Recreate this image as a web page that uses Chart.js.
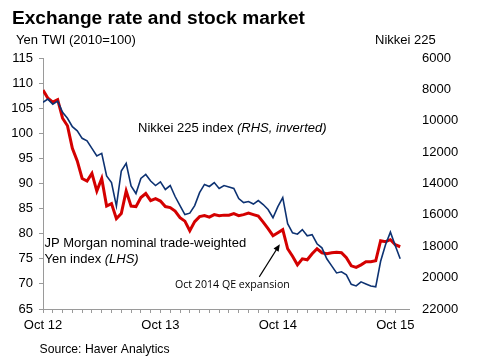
<!DOCTYPE html>
<html><head><meta charset="utf-8">
<script src="https://cdn.jsdelivr.net/npm/chart.js@4.4.1/dist/chart.umd.min.js"></script>
<style>html,body{margin:0;padding:0;background:#fff}#wrap{width:479px;height:360px;position:relative}</style>
</head><body><div id="wrap"><canvas id="c" width="479" height="360"></canvas></div>
<script>
// ---- data (semi-monthly readings) ----
const dates = [
'2012-10-01','2012-10-16','2012-11-01','2012-11-16','2012-12-01','2012-12-16',
'2013-01-01','2013-01-16','2013-02-01','2013-02-16','2013-03-01','2013-03-16',
'2013-04-01','2013-04-16','2013-05-01','2013-05-16','2013-06-01','2013-06-16',
'2013-07-01','2013-07-16','2013-08-01','2013-08-16','2013-09-01','2013-09-16',
'2013-10-01','2013-10-16','2013-11-01','2013-11-16','2013-12-01','2013-12-16',
'2014-01-01','2014-01-16','2014-02-01','2014-02-16','2014-03-01','2014-03-16',
'2014-04-01','2014-04-16','2014-05-01','2014-05-16','2014-06-01','2014-06-16',
'2014-07-01','2014-07-16','2014-08-01','2014-08-16','2014-09-01','2014-09-16',
'2014-10-01','2014-10-16','2014-11-01','2014-11-16','2014-12-01','2014-12-16',
'2015-01-01','2015-01-16','2015-02-01','2015-02-16','2015-03-01','2015-03-16',
'2015-04-01','2015-04-16','2015-05-01','2015-05-16','2015-06-01','2015-06-16',
'2015-07-01','2015-07-16','2015-08-01','2015-08-16','2015-09-01','2015-09-16',
'2015-10-01','2015-10-16'];
const yenTWI = [
108.6,107.0,106.2,106.7,103.0,101.5,97.0,94.5,91.0,90.5,
92.0,88.5,91.0,85.5,86.0,83.0,84.0,88.5,85.5,85.4,
87.2,88.0,86.6,87.0,86.5,85.4,85.2,84.5,83.2,82.5,
80.6,82.4,83.4,83.6,83.3,83.8,83.6,83.7,83.7,84.0,
83.6,83.8,84.1,83.8,83.5,82.3,81.0,79.6,80.2,80.8,
77.0,75.5,73.8,75.0,74.8,76.0,77.0,76.2,76.0,76.2,
76.3,76.2,75.2,73.6,73.3,73.8,74.4,74.4,74.6,78.6,
78.4,78.8,77.8,77.4];
const nikkei225 = [
8820,8620,8940,8750,9460,9840,10380,10640,11120,11280,
11760,12240,12080,13520,13940,15440,13200,12720,14160,14640,
13680,13420,13840,14130,13900,14380,14130,14830,15410,15980,
15890,15410,14580,14060,14190,13940,14320,14130,14220,14320,
14960,15220,15150,15310,15090,15340,15660,16180,15470,14900,
16560,17140,17230,16940,17330,17260,17840,18100,18800,19250,
19700,19630,19820,20430,20530,20270,20400,20530,20590,18960,
17900,17100,17970,18800];
const xTickLabels = ['Oct 12','Oct 13','Oct 14','Oct 15'];
const leftTicks = [65,70,75,80,85,90,95,100,105,110,115];
const rightTicks = [6000,8000,10000,12000,14000,16000,18000,20000,22000];

// months since Oct 2012
function monthIndex(s){const [y,m,d]=s.split('-').map(Number);return (y-2012)*12+(m-10)+(d-1)/30;}
const xs = dates.map(monthIndex);
const redPts = xs.map((x,i)=>({x, y: yenTWI[i]}));
const bluePts = xs.map((x,i)=>({x, y: nikkei225[i]}));

const FONT = '"Liberation Sans", Arial, sans-serif';
const NOTE_FONT = '"Open Sans", "Noto Sans", sans-serif';
Chart.defaults.font.family = FONT;
Chart.defaults.font.size = 13;
Chart.defaults.color = '#000';

function fitFont(ctx, text, weight, family, target, base){
  ctx.font = `${weight} ${base}px ${family}`;
  const w = ctx.measureText(text).width;
  return base * target / w;
}

const textPlugin = {
  id: 'texts',
  afterDraw(chart){
    const ctx = chart.ctx; const sx = chart.scales.x, sy = chart.scales.y;
    ctx.save();
    ctx.fillStyle = '#000'; ctx.textBaseline = 'alphabetic'; ctx.textAlign = 'left';
    // title
    let fs = fitFont(ctx,'Exchange rate and stock market','bold',FONT,293,19);
    ctx.font = `bold ${fs}px ${FONT}`;
    ctx.fillText('Exchange rate and stock market', 12, 23.5);
    ctx.font = `13px ${FONT}`;
    ctx.fillText('Yen TWI (2010=100)', 16, 44);
    ctx.fillText('Nikkei 225', 375, 44);
    // series labels
    let t1 = 'Nikkei 225 index ';
    ctx.fillText(t1, 138, 132);
    let w1 = ctx.measureText(t1).width;
    ctx.font = `italic 13px ${FONT}`;
    ctx.fillText('(RHS, inverted)', 138 + w1, 132);
    ctx.font = `13px ${FONT}`;
    ctx.fillText('JP Morgan nominal trade-weighted', 44.5, 247);
    let t2 = 'Yen index ';
    ctx.fillText(t2, 44.5, 263);
    let w2 = ctx.measureText(t2).width;
    ctx.font = `italic 13px ${FONT}`;
    ctx.fillText('(LHS)', 44.5 + w2, 263);
    // annotation
    const QE = 'Oct 2014 QE expansion';
    fs = fitFont(ctx, QE, 'normal', NOTE_FONT, 115, 12);
    ctx.font = `normal ${fs}px ${NOTE_FONT}`;
    ctx.fillText(QE, 175, 287.5);
    // source
    ctx.font = `12.2px ${FONT}`;
    ctx.fillText('Source: Haver Analytics', 39.5, 353);
    // arrow from label to the Oct 2014 point on the yen line
    const tip = {x: sx.getPixelForValue(24.2), y: sy.getPixelForValue(77.9)};
    const tail = {x: sx.getPixelForValue(22.1), y: sy.getPixelForValue(71.4)};
    const ang = Math.atan2(tip.y - tail.y, tip.x - tail.x);
    ctx.strokeStyle = '#000'; ctx.lineWidth = 1.1;
    ctx.beginPath(); ctx.moveTo(tail.x, tail.y);
    ctx.lineTo(tip.x - 4*Math.cos(ang), tip.y - 4*Math.sin(ang)); ctx.stroke();
    ctx.beginPath();
    ctx.moveTo(tip.x, tip.y);
    ctx.lineTo(tip.x - 7*Math.cos(ang) + 3*Math.sin(ang), tip.y - 7*Math.sin(ang) - 3*Math.cos(ang));
    ctx.lineTo(tip.x - 7*Math.cos(ang) - 3*Math.sin(ang), tip.y - 7*Math.sin(ang) + 3*Math.cos(ang));
    ctx.closePath(); ctx.fill();
    ctx.restore();
  }
};

new Chart(document.getElementById('c'), {
  type: 'line',
  data: { datasets: [
    { label: 'Nikkei 225 index (RHS, inverted)', data: bluePts, yAxisID: 'y2', borderColor: '#0D3272', borderWidth: 1.6, pointRadius: 0, tension: 0, order: 0 },
    { label: 'JP Morgan nominal trade-weighted Yen index (LHS)', data: redPts, yAxisID: 'y', borderColor: '#D40000', borderWidth: 3, pointRadius: 0, tension: 0, order: 1 }
  ]},
  options: {
    responsive: false, animation: false, devicePixelRatio: 1,
    layout: { padding: { top: 58, bottom: 26, left: 0, right: 0 } },
    plugins: { legend: { display: false }, tooltip: { enabled: false }, title: { display: false } },
    scales: {
      x: {
        type: 'linear', min: 0, max: 37.4,
        afterBuildTicks: s => { s.ticks = s.ticks.filter(t => Number.isInteger(t.value)); },
        afterFit: s => { s.height = 25; },
        ticks: { stepSize: 1, autoSkip: false, maxRotation: 0, padding: 5,
          callback: v => (v % 12 === 0 ? xTickLabels[v/12] : '') },
        grid: { drawOnChartArea: false, tickLength: 4, color: '#9a9a9a' },
        border: { color: '#9a9a9a' }
      },
      y: {
        position: 'left', min: 65, max: 115,
        afterBuildTicks: s => { s.ticks = leftTicks.map(v => ({value: v})); },
        afterFit: s => { s.width = 43; },
        ticks: { padding: 6, callback: v => String(v) },
        grid: { drawOnChartArea: false, tickLength: 4, color: '#9a9a9a' },
        border: { color: '#9a9a9a' }
      },
      y2: {
        position: 'right', min: 6000, max: 22000, reverse: true,
        afterBuildTicks: s => { s.ticks = rightTicks.map(v => ({value: v})); },
        afterFit: s => { s.width = 70; },
        ticks: { padding: 13, callback: v => String(v) },
        grid: { display: false, drawTicks: false },
        border: { display: false }
      }
    }
  },
  plugins: [textPlugin]
});
</script></body></html>
